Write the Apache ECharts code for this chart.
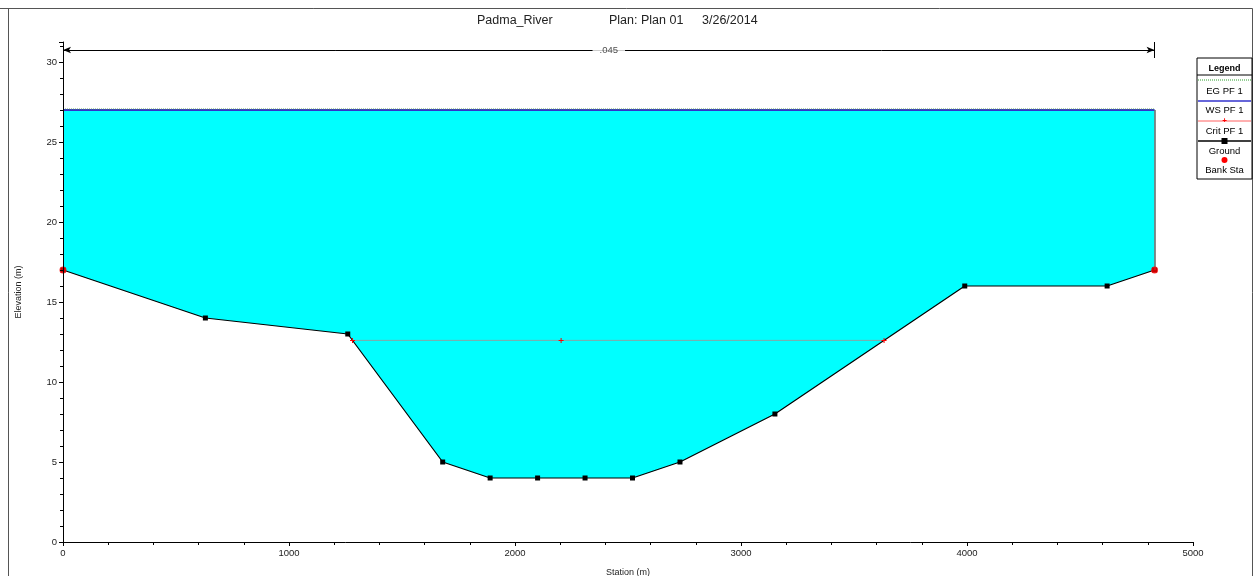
<!doctype html>
<html lang="en">
<head>
    <meta charset="UTF-8">
    <title>Padma_River</title>
    <script src="https://cdn.jsdelivr.net/npm/echarts@6/dist/echarts.min.js"></script>
    <style>
        html, body { margin: 0; padding: 0; background: #fff; }
    </style>
</head>
<body>
<div id="main" style="width: 1253px;height:576px;"></div>
<script type="text/javascript">
    // 数据
    var groundSta = [0, 630, 1260, 1680, 1890, 2100, 2310, 2520, 2730, 3150, 3990, 4620, 4830];
    var groundElev = [17, 14, 13, 5, 4, 4, 4, 4, 5, 8, 16, 16, 17];
    var wsSta = [0, 4830];
    var wsElev = 27.0;
    var egElev = 27.06;
    var critSta = [1281, 2204, 3633];
    var critElev = 12.6;
    var bankSta = [0, 4830];
    var bankElev = [17, 17];
    var nValue = '.045';
    var nRange = [0, 4830];
    var nElev = 30.75;
    var legendNames = ['EG PF 1', 'WS PF 1', 'Crit PF 1', 'Ground', 'Bank Sta'];

    function pairs(xs, ys) {
        var out = [];
        for (var i = 0; i < xs.length; i++) {
            out.push([xs[i], Array.isArray(ys) ? ys[i] : ys]);
        }
        return out;
    }

    var myChart = echarts.init(document.getElementById('main'));
    var font = 'Liberation Sans, Arial, sans-serif';
    var plusPath = 'path://M4,0 L6,0 L6,4 L10,4 L10,6 L6,6 L6,10 L4,10 L4,6 L0,6 L0,4 L4,4 Z';

    // 图例 (自己画)
    var lg = [];
    var lx = 1197, lw = 55;
    lg.push({ type: 'rect', shape: { x: lx, y: 58, width: lw, height: 121 },
        style: { fill: '#fff', stroke: '#000', lineWidth: 1 }, z: 100 });
    lg.push({ type: 'text', x: lx + lw / 2, y: 69, z: 101,
        style: { text: 'Legend', font: 'bold 9px ' + font, fill: '#000', align: 'center', verticalAlign: 'middle' } });
    lg.push({ type: 'line', shape: { x1: lx, y1: 75, x2: lx + lw, y2: 75 }, style: { stroke: '#000', lineWidth: 1 }, z: 101 });
    var rowY = [80, 101, 121, 141, 160];
    var textY = [91, 110, 131, 151, 170];
    var lineStyles = [
        { stroke: '#2ca02c', lineWidth: 1, lineDash: [1, 1] },
        { stroke: '#3333cc', lineWidth: 1.5 },
        { stroke: '#ff6060', lineWidth: 1 },
        { stroke: '#000', lineWidth: 1.5 }
    ];
    for (var i = 0; i < legendNames.length; i++) {
        if (i < 4) {
            lg.push({ type: 'line', shape: { x1: lx + 1, y1: rowY[i], x2: lx + lw - 1, y2: rowY[i] }, style: lineStyles[i], z: 101 });
        }
        if (i === 2) {
            lg.push({ type: 'text', x: lx + lw / 2, y: rowY[i], z: 102,
                style: { text: '+', font: 'bold 8px ' + font, fill: '#ff0000', align: 'center', verticalAlign: 'middle' } });
        }
        if (i === 3) {
            lg.push({ type: 'rect', shape: { x: lx + lw / 2 - 3, y: rowY[i] - 3, width: 6, height: 6 }, style: { fill: '#000' }, z: 102 });
        }
        if (i === 4) {
            lg.push({ type: 'circle', shape: { cx: lx + lw / 2, cy: rowY[i], r: 3 }, style: { fill: '#ff0000' }, z: 102 });
        }
        lg.push({ type: 'text', x: lx + lw / 2, y: textY[i], z: 101,
            style: { text: legendNames[i], font: '9.5px ' + font, fill: '#000', align: 'center', verticalAlign: 'middle' } });
    }
    // 外框
    lg.push({ type: 'polyline', shape: { points: [[0, 8.5], [1252.5, 8.5], [1252.5, 576]] }, style: { stroke: '#555', fill: null, lineWidth: 1 }, z: 50 });
    lg.push({ type: 'line', shape: { x1: 8.5, y1: 8.5, x2: 8.5, y2: 576 }, style: { stroke: '#555', lineWidth: 1 }, z: 50 });

    var titleStyle = { fontFamily: font, fontSize: 12.5, fontWeight: 'normal', color: '#222' };

    // 水面多边形: 水面线 + 地面线(倒序)
    function renderWater(params, api) {
        if (params.dataIndex > 0) return;
        var pts = [api.coord([wsSta[0], wsElev]), api.coord([wsSta[1], wsElev])];
        for (var k = groundSta.length - 1; k >= 0; k--) {
            pts.push(api.coord([groundSta[k], groundElev[k]]));
        }
        return { type: 'polygon', shape: { points: pts }, style: { fill: '#00ffff' } };
    }

    var option = {
        animation: false,
        backgroundColor: '#fff',
        title: [
            { text: 'Padma_River', left: 472, top: 9, textStyle: titleStyle },
            { text: 'Plan: Plan 01', left: 604, top: 9, textStyle: titleStyle },
            { text: '3/26/2014', left: 697, top: 9, textStyle: titleStyle }
        ],
        grid: { left: 63, right: 60, top: 42, bottom: 34, outerBoundsMode: 'none', containLabel: false },
        xAxis: {
            type: 'value',
            min: 0, max: 5000, interval: 1000,
            z: 10,
            name: 'Station (m)',
            nameLocation: 'middle',
            nameGap: 26,
            nameTextStyle: { fontFamily: font, fontSize: 9, color: '#222' },
            axisLine: { onZero: false, lineStyle: { color: '#000', width: 1 } },
            axisTick: { length: 4, lineStyle: { color: '#000' } },
            minorTick: { show: true, splitNumber: 5, length: 3, lineStyle: { color: '#000' } },
            splitLine: { show: false },
            axisLabel: { fontFamily: font, fontSize: 9.5, color: '#222', margin: 6,
                formatter: function (v) { return String(v); } }
        },
        yAxis: {
            type: 'value',
            min: 0, max: 31.25, interval: 5,
            z: 10,
            name: 'Elevation (m)',
            nameLocation: 'middle',
            nameGap: 40,
            nameTextStyle: { fontFamily: font, fontSize: 9, color: '#222' },
            axisLine: { show: true, lineStyle: { color: '#000', width: 1 } },
            axisTick: { show: true, length: 4, lineStyle: { color: '#000' } },
            minorTick: { show: true, splitNumber: 5, length: 3, lineStyle: { color: '#000' } },
            splitLine: { show: false },
            axisLabel: { fontFamily: font, fontSize: 9.5, color: '#222', margin: 6, showMaxLabel: false }
        },
        graphic: lg,
        series: [
            {
                name: 'Water',
                type: 'custom',
                renderItem: renderWater,
                data: pairs(wsSta, wsElev),
                encode: { x: 0, y: 1 },
                silent: true,
                z: 1
            },
            {
                name: 'WS PF 1',
                type: 'line',
                data: pairs(wsSta, wsElev),
                symbol: 'none',
                lineStyle: { color: '#3333cc', width: 2 },
                markLine: {
                    silent: true,
                    symbol: 'none',
                    label: { show: false },
                    lineStyle: { color: '#666', width: 1.5, type: 'solid' },
                    data: [[{ coord: [wsSta[1], bankElev[1]] }, { coord: [wsSta[1], wsElev] }]]
                }
            },
            {
                name: 'Ground',
                type: 'line',
                data: pairs(groundSta, groundElev),
                symbol: 'rect',
                symbolSize: 5,
                itemStyle: { color: '#000' },
                lineStyle: { color: '#000', width: 1.2 }
            },
            {
                name: 'Crit PF 1',
                type: 'line',
                data: pairs(critSta, critElev),
                symbol: plusPath,
                symbolSize: 5,
                itemStyle: { color: '#ff0000' },
                lineStyle: { color: '#a89090', width: 0.8 }
            },
            {
                name: 'EG PF 1',
                type: 'line',
                data: pairs(wsSta, egElev),
                symbol: 'none',
                lineStyle: { color: '#559955', width: 1, type: 'dotted' }
            },
            {
                name: 'Bank Sta',
                type: 'scatter',
                data: pairs(bankSta, bankElev),
                symbol: 'circle',
                symbolSize: 7,
                itemStyle: { color: '#ff0000' },
                z: 5
            },
            {
                name: 'n',
                type: 'scatter',
                data: [[(nRange[0] + nRange[1]) / 2, nElev]],
                symbolSize: 1,
                itemStyle: { color: 'rgba(0,0,0,0)' },
                z: 6,
                label: {
                    show: true,
                    position: 'inside',
                    formatter: nValue,
                    fontFamily: font,
                    fontSize: 9.5,
                    color: '#222',
                    backgroundColor: '#fff',
                    padding: [1, 7]
                },
                markLine: {
                    silent: true,
                    symbol: ['arrow', 'arrow'],
                    symbolSize: [5, 8],
                    label: { show: false },
                    lineStyle: { color: '#000', width: 1, type: 'solid' },
                    data: [
                        [{ coord: [nRange[0], nElev] }, { coord: [nRange[1], nElev] }],
                        [{ coord: [nRange[1], 31.25], symbol: 'none' }, { coord: [nRange[1], 30.25], symbol: 'none' }]
                    ]
                }
            }
        ]
    };

    myChart.setOption(option);
</script>
</body>
</html>
